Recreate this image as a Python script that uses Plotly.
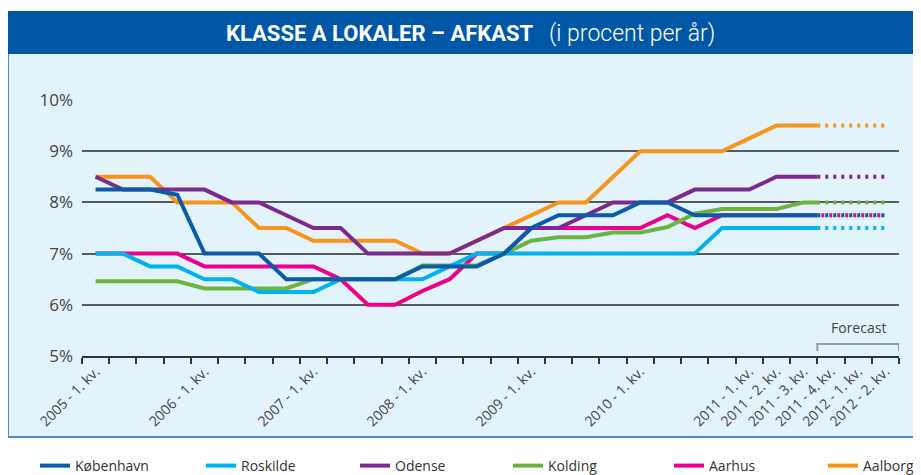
import plotly.graph_objects as go

# ---------------- data ----------------
quarters = [f"{y} - {q}. kv." for y in range(2005, 2013) for q in range(1, 5)][:30]
labeled_quarters = ["2005 - 1. kv.", "2006 - 1. kv.", "2007 - 1. kv.", "2008 - 1. kv.",
                    "2009 - 1. kv.", "2010 - 1. kv.", "2011 - 1. kv.", "2011 - 2. kv.",
                    "2011 - 3. kv.", "2011 - 4. kv.", "2012 - 1. kv.", "2012 - 2. kv."]
forecast_quarters = ["2011 - 4. kv.", "2012 - 1. kv.", "2012 - 2. kv."]

series_names = ["København", "Roskilde", "Odense", "Kolding", "Aarhus", "Aalborg"]

kobenhavn = [8.25, 8.25, 8.25, 8.15, 7.0, 7.0, 7.0, 6.5, 6.5, 6.5, 6.5, 6.5, 6.75, 6.75, 6.75,
             7.0, 7.5, 7.75, 7.75, 7.75, 8.0, 8.0, 7.75, 7.75, 7.75, 7.75, 7.75, 7.75, 7.75, 7.75]
roskilde = [7.0, 7.0, 6.75, 6.75, 6.5, 6.5, 6.25, 6.25, 6.25, 6.5, 6.5, 6.5, 6.5, 6.75, 7.0,
            7.0, 7.0, 7.0, 7.0, 7.0, 7.0, 7.0, 7.0, 7.5, 7.5, 7.5, 7.5, 7.5, 7.5, 7.5]
odense = [8.5, 8.25, 8.25, 8.25, 8.25, 8.0, 8.0, 7.75, 7.5, 7.5, 7.0, 7.0, 7.0, 7.0, 7.25,
          7.5, 7.5, 7.5, 7.75, 8.0, 8.0, 8.0, 8.25, 8.25, 8.25, 8.5, 8.5, 8.5, 8.5, 8.5]
kolding = [6.46, 6.46, 6.46, 6.46, 6.32, 6.32, 6.32, 6.32, 6.5, 6.5, 6.5, 6.5, 6.77, 6.77, 6.77,
           7.0, 7.25, 7.32, 7.32, 7.41, 7.41, 7.52, 7.78, 7.87, 7.87, 7.87, 8.0, 8.0, 8.0, 8.0]
aarhus = [7.0, 7.0, 7.0, 7.0, 6.75, 6.75, 6.75, 6.75, 6.75, 6.5, 6.0, 6.0, 6.27, 6.5, 7.0,
          7.0, 7.5, 7.5, 7.5, 7.5, 7.5, 7.75, 7.5, 7.75, 7.75, 7.75, 7.75, 7.75, 7.75, 7.75]
aalborg = [8.5, 8.5, 8.5, 8.0, 8.0, 8.0, 7.5, 7.5, 7.25, 7.25, 7.25, 7.25, 7.0, 7.0, 7.25,
           7.5, 7.75, 8.0, 8.0, 8.5, 9.0, 9.0, 9.0, 9.0, 9.25, 9.5, 9.5, 9.5, 9.5, 9.5]

series_values = [kobenhavn, roskilde, odense, kolding, aarhus, aalborg]
series_colors = ["#0A5CA8", "#00B2EE", "#7D2A8E", "#6DB33F", "#EC008C", "#F7941D"]
forecast_dash = ["3px,5px", "3px,5px", "3px,5px", "3px,5px", "0px,4px,3px,1px", "3px,5px"]

y_ticks = [5, 6, 7, 8, 9, 10]

# ---------------- figure geometry ----------------
W, H = 921, 475
OFF = 8  # page body margin: the figure is drawn 8px right/down in the page
PLOT_L, PLOT_R, PLOT_T, PLOT_B = 82, 899, 100, 356  # wanted plot area in page pixels
L = PLOT_L - OFF
T = PLOT_T - OFF
pw, ph = PLOT_R - PLOT_L, PLOT_B - PLOT_T
R = W - L - pw
B = H - T - ph


def px_x(p):  # page pixel -> paper x
    return (p - PLOT_L) / pw


def px_y(p):  # page pixel -> paper y
    return (PLOT_B - p) / ph


legend_left_px = [35, 201, 355, 508, 669, 823]

xs = list(range(len(quarters)))
f0 = quarters.index(forecast_quarters[0])
boundary = f0 - 0.5

fig = go.Figure()
# draw last series first so the first series ends up on top
for k in reversed(range(len(series_names))):
    name, vals, col, dsh = series_names[k], series_values[k], series_colors[k], forecast_dash[k]
    lg = "legend" if k == 0 else f"legend{k + 1}"
    mid = (vals[f0 - 1] + vals[f0]) / 2
    fig.add_trace(go.Scatter(x=xs[:f0] + [boundary], y=vals[:f0] + [mid], mode="lines", name=name,
                             legendgroup=name, legend=lg, line=dict(color=col, width=4)))
    fig.add_trace(go.Scatter(x=[boundary] + xs[f0:], y=[mid] + vals[f0:], mode="lines", name=name,
                             legendgroup=name, legend=lg, showlegend=False,
                             line=dict(color=col, width=4, dash=dsh)))

shapes = [
    dict(type="rect", xref="paper", yref="paper", x0=px_x(8), x1=px_x(940), y0=px_y(437), y1=px_y(54),
         fillcolor="#E3F3FC", line=dict(width=0), layer="below"),
    dict(type="line", xref="paper", yref="paper", x0=px_x(8), x1=px_x(8), y0=px_y(437), y1=px_y(54),
         line=dict(color="#4F8AC9", width=2), layer="below"),
    dict(type="line", xref="paper", yref="paper", x0=px_x(8), x1=px_x(940), y0=px_y(437), y1=px_y(437),
         line=dict(color="#4F8AC9", width=2), layer="below"),
    dict(type="rect", xref="paper", yref="paper", x0=px_x(8), x1=px_x(940), y0=px_y(54), y1=px_y(11),
         fillcolor="#0057A6", line=dict(width=0), layer="below"),
    dict(type="path", xref="x", yref="paper",
         path=f"M {boundary},{px_y(351)} L {boundary},{px_y(344)} L {len(quarters) - 0.5},{px_y(344)} L {len(quarters) - 0.5},{px_y(351)}",
         line=dict(color="#9A9A9A", width=2)),
]

annotations = [
    dict(xref="paper", yref="paper", x=px_x(536), y=px_y(33), xanchor="right", yanchor="middle",
         showarrow=False, text="<b>KLASSE A LOKALER – AFKAST</b>",
         font=dict(family="Roboto, sans-serif", size=22, color="white")),
    dict(xref="paper", yref="paper", x=px_x(547), y=px_y(33), xanchor="left", yanchor="middle",
         showarrow=False, text="(i procent per år)",
         font=dict(family="Roboto, sans-serif", size=23, color="white", weight=300)),
    dict(xref="x", yref="paper", x=(boundary + len(quarters) - 0.5) / 2, y=px_y(327),
         xanchor="center", yanchor="middle", showarrow=False, text="Forecast",
         font=dict(family="Open Sans, sans-serif", size=14, color="#444444")),
]

legend_style = dict(orientation="h", xanchor="left", yanchor="middle", y=px_y(466),
                    font=dict(family="Open Sans, sans-serif", size=14, color="#333333"),
                    bgcolor="rgba(0,0,0,0)")
layout_legends = {}
for k, lx in enumerate(legend_left_px):
    key = "legend" if k == 0 else f"legend{k + 1}"
    layout_legends[key] = dict(legend_style, x=px_x(lx))

fig.update_layout(
    width=W, height=H,
    margin=dict(l=L, r=R, t=T, b=B, pad=0, autoexpand=False),
    paper_bgcolor="white",
    plot_bgcolor="rgba(0,0,0,0)",
    shapes=shapes,
    annotations=annotations,
    font=dict(family="Open Sans, sans-serif", color="#444444"),
    showlegend=True,
    **layout_legends,
)

fig.update_xaxes(
    range=[-0.5, len(quarters) - 0.5],
    automargin=False,
    tickmode="array",
    tickvals=[quarters.index(q) for q in labeled_quarters],
    ticktext=labeled_quarters,
    tickangle=-45,
    ticks="",
    showgrid=False, zeroline=False,
    showline=True, linecolor="#333333", linewidth=2,
    tickfont=dict(family="Open Sans, sans-serif", size=14, color="#444444"),
    minor=dict(tickmode="array", tickvals=[i - 0.5 for i in range(len(quarters) + 1)],
               ticks="outside", ticklen=6, tickwidth=2, tickcolor="#333333", showgrid=False),
)
fig.update_yaxes(
    range=[5, 10],
    automargin=False,
    tickmode="array", tickvals=y_ticks, ticktext=[f"{v}%" for v in y_ticks],
    showgrid=True, gridcolor="#58595B", gridwidth=2,
    zeroline=False, showline=False, ticks="",
    ticklabelstandoff=8,
    tickfont=dict(family="Open Sans, sans-serif", size=17, color="#444444"),
)

fig.write_html("out.html")
